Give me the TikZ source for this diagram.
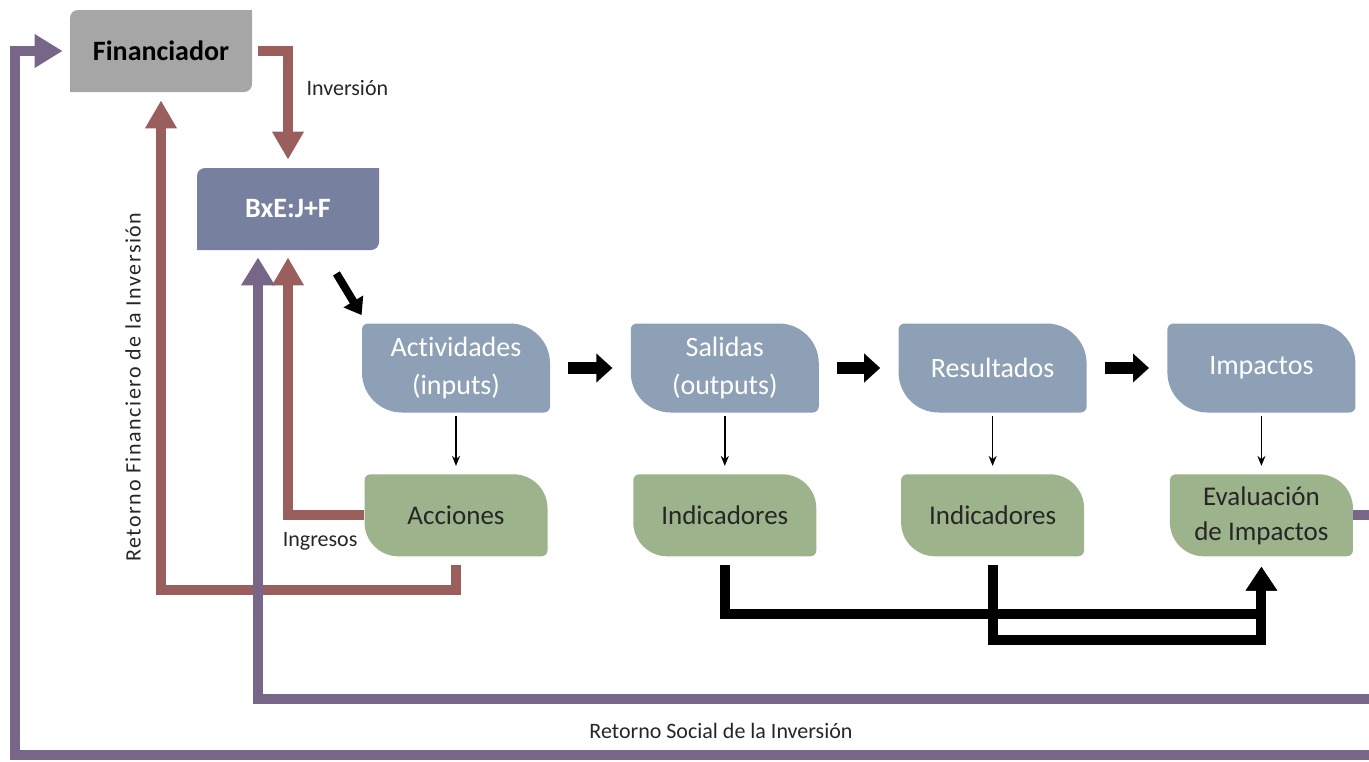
\documentclass[tikz,border=0pt]{standalone}
\usepackage{fontspec}
\setmainfont{Carlito}[Ligatures=NoCommon]
\usetikzlibrary{positioning, calc, arrows.meta}

\definecolor{fingray}{HTML}{A6A6A6}
\definecolor{bxeblue}{HTML}{77819F}
\definecolor{stepblue}{HTML}{8EA0B5}
\definecolor{stepgreen}{HTML}{9CB38B}
\definecolor{moneybrown}{HTML}{9A5E5C}
\definecolor{socialpurple}{HTML}{776688}

% fill a box with its own radius at each corner: colour, tl, tr, br, bl
\newcommand{\cornerfill}[5]{%
    \fill[#1] ([yshift=-#2]path picture bounding box.north west)
        arc[start angle=180, end angle=90, radius=#2]
        -- ([xshift=-#3]path picture bounding box.north east)
        arc[start angle=90, end angle=0, radius=#3]
        -- ([yshift=#4]path picture bounding box.south east)
        arc[start angle=0, end angle=-90, radius=#4]
        -- ([xshift=#5]path picture bounding box.south west)
        arc[start angle=270, end angle=180, radius=#5]
        -- cycle;}

\tikzset{
        headbox/.style={
            minimum width=91pt, minimum height=41pt, inner sep=0pt,
            font={\fontsize{14}{16}\selectfont\bfseries},
            path picture={\cornerfill{#1}{4pt}{0.01pt}{4pt}{0.01pt}}
        },
        stepbox/.style={
            minimum width=94pt, minimum height=44.5pt, inner sep=0pt,
            align=center, text=white, font={\fontsize{14}{19}\selectfont},
            path picture={\cornerfill{stepblue}{3pt}{20pt}{3pt}{20pt}}
        },
        checkbox/.style={
            minimum width=91.5pt, minimum height=41pt, inner sep=0pt,
            align=center, text=black!85, font={\fontsize{13.5}{17.5}\selectfont},
            path picture={\cornerfill{stepgreen}{3pt}{17pt}{3pt}{17pt}}
        },
        money/.style={draw=moneybrown, line width=5pt, -{Triangle[width=15pt,length=14pt]}},
        social/.style={draw=socialpurple, line width=5pt, -{Triangle[width=16pt,length=14pt]}},
        flow/.style={line width=6pt, -{Triangle[width=14pt,length=8pt]}},
        route/.style={line width=5pt, -{Triangle[width=15pt,length=12pt]}},
        probe/.style={thick, -{Stealth[length=5pt,width=4pt]}},
        note/.style={font={\fontsize{11}{13}\selectfont}, text=black!85},
}

\begin{document}
\begin{tikzpicture}[x=0.5pt, y=-0.5pt]

        \useasboundingbox (0,0) rectangle (1369,761);
        \clip (0,0) rectangle (1369,761);

        % DRAW NODES
        \node[headbox=fingray]                (fin) at (161,51)   {Financiador};
        \node[headbox=bxeblue, text=white]    (bxe) at (288,209)  {BxE:J+F};

        \node[stepbox]                 (act) at (456,368)  {Actividades\\(inputs)};
        \node[stepbox, right=40pt of act]   (sal)          {Salidas\\(outputs)};
        \node[stepbox, right=39.5pt of sal] (res)          {Resultados};
        \node[stepbox, right=40pt of res]   (imp)          {Impactos};

        \node[checkbox, below=30.5pt of act] (acc)  {Acciones};
        \node[checkbox, below=30.5pt of sal] (ind1) {Indicadores};
        \node[checkbox, below=30.5pt of res] (ind2) {Indicadores};
        \node[checkbox, below=30.5pt of imp] (evl)  {Evaluación\\de Impactos};

        % LABELS
        \node[note]            (inv)    at ($(fin.east)+(95,37)$)  {Inversión};
        \node[note]            (ingr)   at ($(acc.west)+(-44,26)$) {Ingresos};
        \node[note, rotate=90] (retfin) at (133,387)  {\addfontfeature{LetterSpace=7}Retorno Financiero de la Inversión};
        \node[note]            (retsoc) at (721,731)  {Retorno Social de la Inversión};

        % MONEY FLOWS
        \draw[money, shorten <=3pt, shorten >=4pt] (fin.east) -| (bxe.north);
        \draw[money, shorten >=3.5pt] (acc.west) -| (bxe.south);
        \coordinate (fret) at ($(fin.south)+(0,498)$);
        \draw[money, shorten <=4pt, shorten >=4pt] (acc.south) |- (fret) -- (fin.south);

        % SOCIAL RETURN
        \coordinate (sright) at ($(evl.east)+(38,0)$);
        \draw[social, shorten >=3.5pt] (evl.east) -| ($(sright)+(0,184)$) -| ([xshift=-15pt]bxe.south);
        \draw[social, shorten >=3.5pt] ($(sright)+(0,180)$) |- ($(fin.west)+(-55,704)$) |- (fin.west);

        % STEPS
        \draw[flow, line width=4pt, -{Triangle[width=11pt,length=8pt]}]
            ($(bxe.south east)+(-43,23)$) -- ($(act.north west)+(0,-8)$);
        \draw[flow, shorten <=9pt, shorten >=9pt] (act) -- (sal);
        \draw[flow, shorten <=9pt, shorten >=9pt] (sal) -- (res);
        \draw[flow, shorten <=9pt, shorten >=9pt] (res) -- (imp);

        % MEASURES
        \draw[probe, shorten <=1.5pt, shorten >=4pt] (act.south) -- (acc.north);
        \draw[probe, shorten <=1.5pt, shorten >=4pt] (sal.south) -- (ind1.north);
        \draw[probe, shorten <=1.5pt, shorten >=4pt] (res.south) -- (ind2.north);
        \draw[probe, shorten <=1.5pt, shorten >=4pt] (imp.south) -- (evl.north);

        % ROUTE TO EVALUATION
        \draw[route, shorten <=4pt, shorten >=5pt] (ind1.south) |- ($(evl.south)+(0,57)$) -- (evl.south);
        \draw[route, shorten <=4pt, shorten >=5pt] (ind2.south) |- ($(evl.south)+(0,83)$) -- (evl.south);

\end{tikzpicture}
\end{document}
